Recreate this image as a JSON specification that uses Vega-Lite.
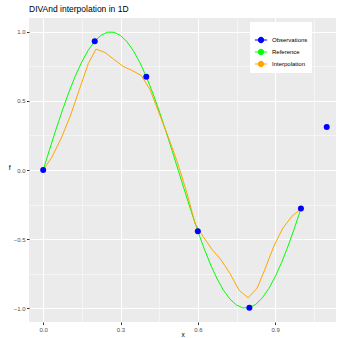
{
  "$schema": "https://vega.github.io/schema/vega-lite/v6.json",
  "autosize": "none",
  "width": 307,
  "height": 304,
  "padding": {"left": 29, "top": 18, "right": 1, "bottom": 16},
  "background": "white",
  "title": {"text": "DIVAnd interpolation in 1D", "anchor": "start", "frame": "group", "fontSize": 8.5, "fontWeight": "normal", "font": "Liberation Sans", "color": "black", "offset": 5},
  "config": {
    "font": "Liberation Sans",
    "view": {"fill": "#EBEBEB", "stroke": null},
    "axis": {"domain": false, "grid": true, "gridColor": "white", "tickColor": "#333333", "tickSize": 2.5, "labelFontSize": 6, "labelColor": "#4D4D4D", "labelPadding": 1.5, "titleFontSize": 7, "titleFontWeight": "normal", "titleColor": "black"}
  },
  "data": {"values": [
    {"series": "Reference", "x": 0, "f": 0},
    {"series": "Reference", "x": 0.025, "f": 0.1494},
    {"series": "Reference", "x": 0.05, "f": 0.2955},
    {"series": "Reference", "x": 0.075, "f": 0.435},
    {"series": "Reference", "x": 0.1, "f": 0.5646},
    {"series": "Reference", "x": 0.125, "f": 0.6816},
    {"series": "Reference", "x": 0.15, "f": 0.7833},
    {"series": "Reference", "x": 0.175, "f": 0.8674},
    {"series": "Reference", "x": 0.2, "f": 0.932},
    {"series": "Reference", "x": 0.225, "f": 0.9757},
    {"series": "Reference", "x": 0.25, "f": 0.9975},
    {"series": "Reference", "x": 0.275, "f": 0.9969},
    {"series": "Reference", "x": 0.3, "f": 0.9738},
    {"series": "Reference", "x": 0.325, "f": 0.929},
    {"series": "Reference", "x": 0.35, "f": 0.8632},
    {"series": "Reference", "x": 0.375, "f": 0.7781},
    {"series": "Reference", "x": 0.4, "f": 0.6755},
    {"series": "Reference", "x": 0.425, "f": 0.5577},
    {"series": "Reference", "x": 0.45, "f": 0.4274},
    {"series": "Reference", "x": 0.475, "f": 0.2875},
    {"series": "Reference", "x": 0.5, "f": 0.1411},
    {"series": "Reference", "x": 0.525, "f": -0.0084},
    {"series": "Reference", "x": 0.55, "f": -0.1577},
    {"series": "Reference", "x": 0.575, "f": -0.3035},
    {"series": "Reference", "x": 0.6, "f": -0.4425},
    {"series": "Reference", "x": 0.625, "f": -0.5716},
    {"series": "Reference", "x": 0.65, "f": -0.6878},
    {"series": "Reference", "x": 0.675, "f": -0.7885},
    {"series": "Reference", "x": 0.7, "f": -0.8716},
    {"series": "Reference", "x": 0.725, "f": -0.9349},
    {"series": "Reference", "x": 0.75, "f": -0.9775},
    {"series": "Reference", "x": 0.775, "f": -0.9979},
    {"series": "Reference", "x": 0.8, "f": -0.9962},
    {"series": "Reference", "x": 0.825, "f": -0.9719},
    {"series": "Reference", "x": 0.85, "f": -0.9258},
    {"series": "Reference", "x": 0.875, "f": -0.8589},
    {"series": "Reference", "x": 0.9, "f": -0.7728},
    {"series": "Reference", "x": 0.925, "f": -0.6692},
    {"series": "Reference", "x": 0.95, "f": -0.5507},
    {"series": "Reference", "x": 0.975, "f": -0.4195},
    {"series": "Reference", "x": 1.0, "f": -0.2794},
    {"series": "Interpolation", "x": 0, "f": 0},
    {"series": "Interpolation", "x": 0.033, "f": 0.09},
    {"series": "Interpolation", "x": 0.07, "f": 0.23},
    {"series": "Interpolation", "x": 0.105, "f": 0.39},
    {"series": "Interpolation", "x": 0.14, "f": 0.58},
    {"series": "Interpolation", "x": 0.175, "f": 0.77},
    {"series": "Interpolation", "x": 0.205, "f": 0.875},
    {"series": "Interpolation", "x": 0.24, "f": 0.85},
    {"series": "Interpolation", "x": 0.275, "f": 0.8},
    {"series": "Interpolation", "x": 0.31, "f": 0.75},
    {"series": "Interpolation", "x": 0.345, "f": 0.72},
    {"series": "Interpolation", "x": 0.38, "f": 0.685},
    {"series": "Interpolation", "x": 0.415, "f": 0.58},
    {"series": "Interpolation", "x": 0.45, "f": 0.41},
    {"series": "Interpolation", "x": 0.485, "f": 0.24},
    {"series": "Interpolation", "x": 0.52, "f": 0.06},
    {"series": "Interpolation", "x": 0.555, "f": -0.15},
    {"series": "Interpolation", "x": 0.59, "f": -0.39},
    {"series": "Interpolation", "x": 0.62, "f": -0.48},
    {"series": "Interpolation", "x": 0.655, "f": -0.575},
    {"series": "Interpolation", "x": 0.69, "f": -0.65},
    {"series": "Interpolation", "x": 0.725, "f": -0.75},
    {"series": "Interpolation", "x": 0.76, "f": -0.87},
    {"series": "Interpolation", "x": 0.795, "f": -0.925},
    {"series": "Interpolation", "x": 0.83, "f": -0.855},
    {"series": "Interpolation", "x": 0.86, "f": -0.72},
    {"series": "Interpolation", "x": 0.895, "f": -0.55},
    {"series": "Interpolation", "x": 0.93, "f": -0.42},
    {"series": "Interpolation", "x": 0.965, "f": -0.335},
    {"series": "Interpolation", "x": 1.0, "f": -0.28},
    {"series": "Observations", "x": 0, "f": 0},
    {"series": "Observations", "x": 0.2, "f": 0.932},
    {"series": "Observations", "x": 0.4, "f": 0.675},
    {"series": "Observations", "x": 0.6, "f": -0.443},
    {"series": "Observations", "x": 0.8, "f": -0.996},
    {"series": "Observations", "x": 1.0, "f": -0.279},
    {"series": "Observations", "x": 1.1, "f": 0.312}
  ]},
  "encoding": {
    "x": {"field": "x", "type": "quantitative", "title": "x",
      "scale": {"domain": [-0.055, 1.136], "nice": false, "zero": false},
      "axis": {"values": [0, 0.15, 0.3, 0.45, 0.6, 0.75, 0.9, 1.05],
        "labelExpr": "round(datum.value*100) % 30 == 0 ? format(datum.value, '.1f') : ''",
        "gridWidth": {"condition": {"test": "round(datum.value*100) % 30 != 0", "value": 0.5}, "value": 1},
        "tickOpacity": {"condition": {"test": "round(datum.value*100) % 30 != 0", "value": 0}, "value": 1},
        "titleFontSize": 6.5, "titlePadding": -1}},
    "y": {"field": "f", "type": "quantitative", "title": "f",
      "scale": {"domain": [-1.1, 1.1], "nice": false, "zero": false},
      "axis": {"values": [-1, -0.75, -0.5, -0.25, 0, 0.25, 0.5, 0.75, 1],
        "labelExpr": "round(datum.value*100) % 50 == 0 ? format(datum.value, '.1f') : ''",
        "gridWidth": {"condition": {"test": "round(datum.value*100) % 50 != 0", "value": 0.5}, "value": 1},
        "tickOpacity": {"condition": {"test": "round(datum.value*100) % 50 != 0", "value": 0}, "value": 1},
        "titleAngle": 0, "titlePadding": 4}},
    "color": {"field": "series", "type": "nominal",
      "scale": {"domain": ["Observations", "Reference", "Interpolation"], "range": ["#0000FF", "#00FF00", "#FFA500"]},
      "legend": {"title": " ", "titleFontSize": 5, "titlePadding": 2, "orient": "none", "legendX": 221, "legendY": 4,
        "fillColor": "white", "padding": 4, "labelFontSize": 6, "labelColor": "black", "labelOffset": 4,
        "symbolType": "M-1,0L1,0M-0.45,0A0.45,0.45 0 1,0 0.45,0A0.45,0.45 0 1,0 -0.45,0Z",
        "symbolSize": 150, "symbolStrokeWidth": 1, "rowPadding": 0,
        "encode": {"symbols": {"update": {"fill": {"scale": "color", "field": "value"}, "stroke": {"scale": "color", "field": "value"}, "opacity": {"value": 1}}}}}}
  },
  "layer": [
    {"transform": [{"filter": "datum.series == 'Reference'"}], "mark": {"type": "line", "strokeWidth": 1}},
    {"transform": [{"filter": "datum.series == 'Interpolation'"}], "mark": {"type": "line", "strokeWidth": 1}},
    {"transform": [{"filter": "datum.series == 'Observations'"}], "mark": {"type": "point", "filled": true, "size": 36, "opacity": 1}}
  ]
}
